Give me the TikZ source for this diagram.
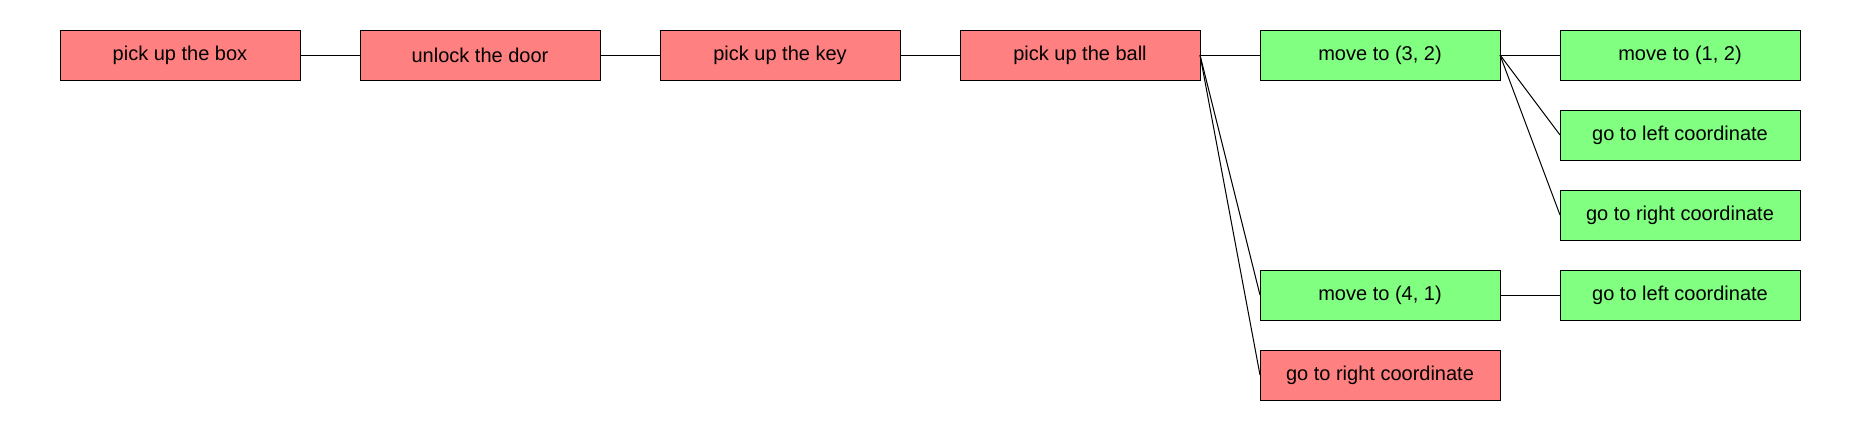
\documentclass[tikz,border=0pt]{standalone}
\usepackage{fontspec}
\setmainfont{Liberation Sans}
\definecolor{donered}{HTML}{FF8080}
\definecolor{todogreen}{HTML}{80FF80}
\begin{document}
\begin{tikzpicture}[
        x=0.5pt, y=-0.5pt,
        task/.style={rectangle, draw, line width=0.5pt, inner sep=0pt, outer sep=0pt,
          minimum width=120pt, minimum height=25pt, font=\fontsize{10}{12}\selectfont},
        done/.style={task, fill=donered},
        todo/.style={task, fill=todogreen},
        edge/.style={line width=0.5pt}
      ]
      \useasboundingbox (0,0) rectangle (1860,430);
      \node[done] (box) at (180,55) {pick up the box};
      \node[done] (door) at (480,55) {unlock the door};
      \node[done] (key) at (780,55) {pick up the key};
      \node[done] (ball) at (1080,55) {pick up the ball};
      \node[todo] (m32) at (1380,55) {move to (3, 2)};
      \node[todo] (m41) at (1380,295) {move to (4, 1)};
      \node[done] (right) at (1380,375) {go to right coordinate};
      \node[todo] (m12) at (1680,55) {move to (1, 2)};
      \node[todo] (left) at (1680,135) {go to left coordinate};
      \node[todo] (rightb) at (1680,215) {go to right coordinate};
      \node[todo] (leftb) at (1680,295) {go to left coordinate};
      \draw[edge] (box.east) -- (door.west);
      \draw[edge] (door.east) -- (key.west);
      \draw[edge] (key.east) -- (ball.west);
      \draw[edge] (ball.east) -- (m32.west);
      \draw[edge] (ball.east) -- (m41.west);
      \draw[edge] (ball.east) -- (right.west);
      \draw[edge] (m32.east) -- (m12.west);
      \draw[edge] (m32.east) -- (left.west);
      \draw[edge] (m32.east) -- (rightb.west);
      \draw[edge] (m41.east) -- (leftb.west);
    \end{tikzpicture}
\end{document}
